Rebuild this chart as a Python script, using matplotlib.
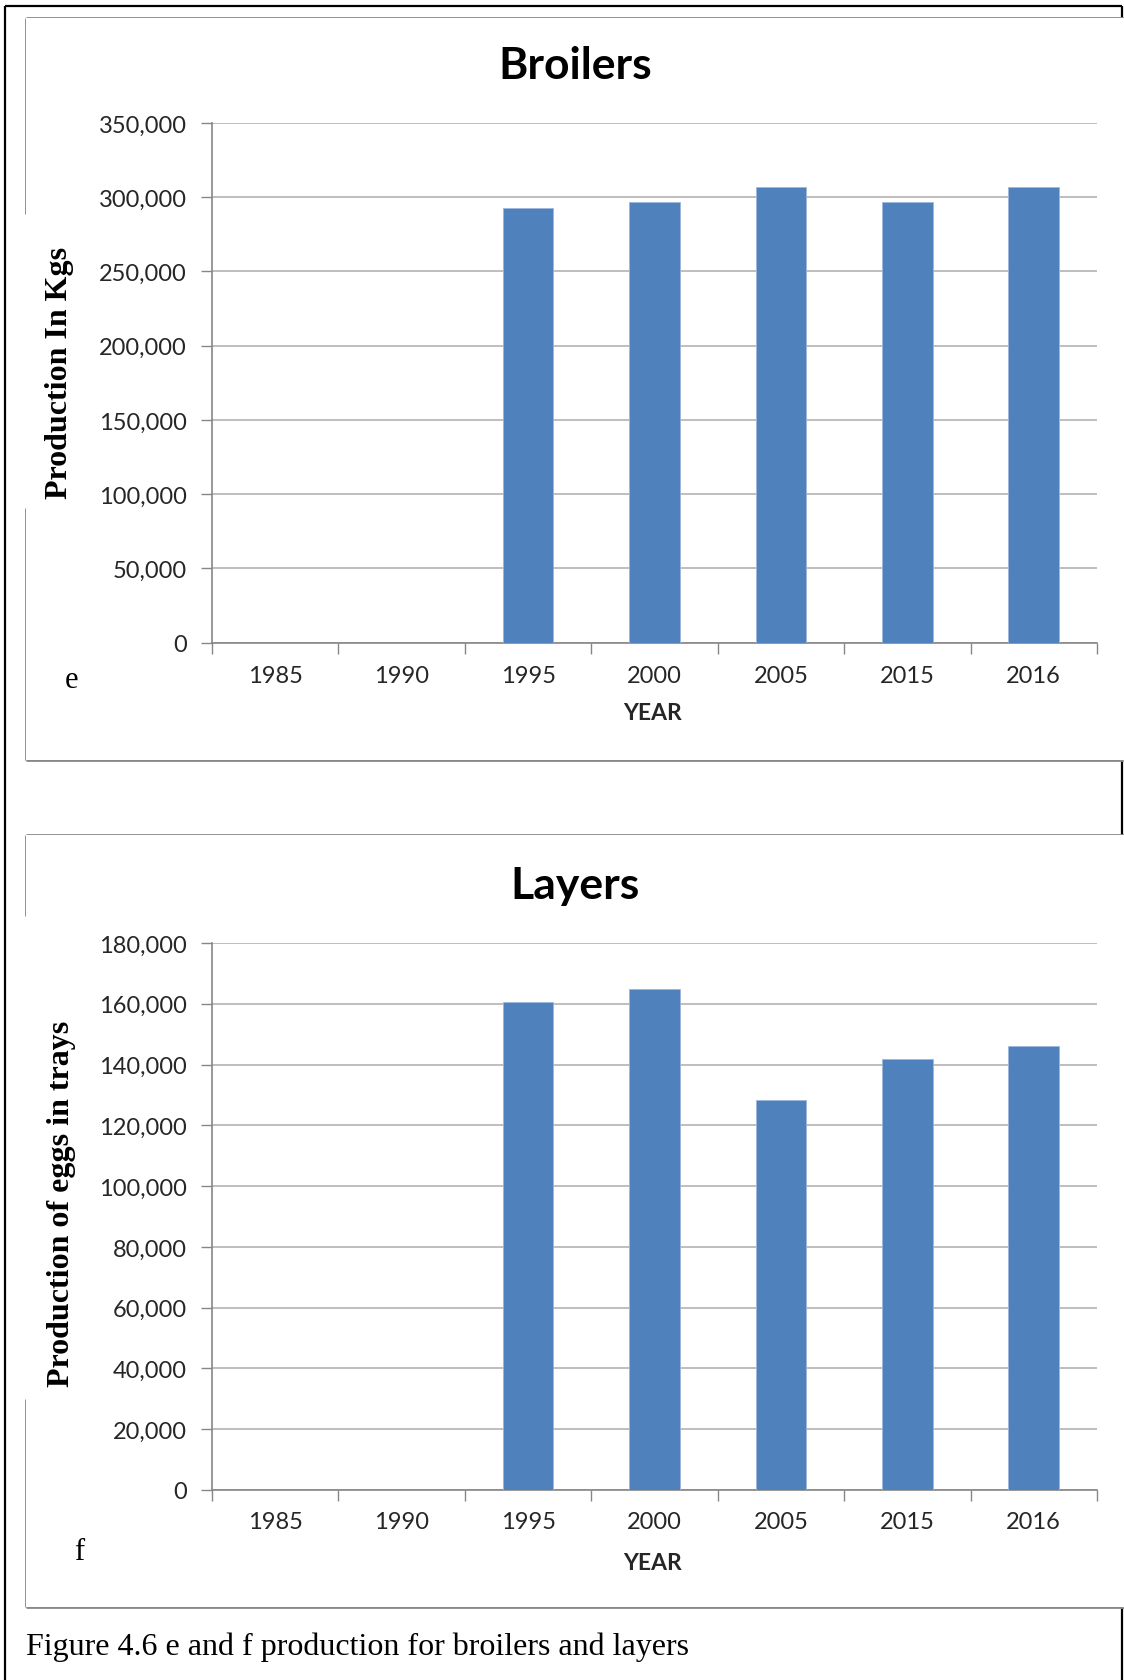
import matplotlib
matplotlib.use("Agg")
import matplotlib.pyplot as plt
from matplotlib.lines import Line2D
from matplotlib.patches import Rectangle
from matplotlib.ticker import FuncFormatter, FixedLocator

# Poultry production by survey year
years = ["1985", "1990", "1995", "2000", "2005", "2015", "2016"]
broilers_kg = [0, 0, 293000, 297000, 307000, 296500, 307000]
layers_trays = [0, 0, 160500, 164800, 128200, 141900, 146100]

W, H = 1124, 1681
BAR = "#4F81BD"
GRID = "#B3B3B3"
AXIS = "#868686"
FRAME = "#888888"
TXT = "#262626"
SANS = "Lato"
SERIF = "Liberation Serif"

fig = plt.figure(figsize=(W / 100, H / 100), dpi=100)


def fx(x):
    return x / W


def fy(y):
    return 1 - y / H


def line(x0, y0, x1, y1, color, lw):
    fig.add_artist(Line2D([fx(x0), fx(x1)], [fy(y0), fy(y1)], color=color, lw=lw,
                          transform=fig.transFigure, solid_capstyle="butt", zorder=-1))


# outer page frame (black)
line(5, 7, 5, H, "black", 1.6)
line(5, 7, 1122, 7, "black", 1.6)
line(1122, 7, 1122, H, "black", 1.6)


def chart_box(top, bottom, gap):
    fig.add_artist(Rectangle((fx(26), fy(bottom)), fx(1124) - fx(26), fy(top) - fy(bottom),
                             transform=fig.transFigure, facecolor="white", edgecolor="none",
                             zorder=-0.5))
    line(26, top, 1124, top, FRAME, 2)
    line(26, bottom, 1124, bottom, FRAME, 2)
    line(1123, top, 1123, bottom, "#BBBBBB", 1)
    line(26, top, 26, gap[0], FRAME, 2)
    line(26, gap[1], 26, bottom, FRAME, 2)


def bar_panel(top, bottom, values, ymax, step, title, ylabel, letter, title_y, label_y,
              tick_y, year_y, letter_pos, ylabel_x):
    ax = fig.add_axes([fx(212), fy(bottom), fx(1097) - fx(212), fy(top) - fy(bottom)])
    ax.set_facecolor("none")
    x = list(range(len(years)))
    ax.bar(x, values, width=0.4, color=BAR, edgecolor="#9DB7DC", linewidth=0.6, zorder=3)
    ax.set_xlim(-0.5, len(years) - 0.5)
    ax.set_ylim(0, ymax)
    ax.set_yticks(range(0, ymax + 1, step))
    ax.yaxis.set_major_formatter(FuncFormatter(lambda v, _: f"{int(v):,}"))
    ax.set_xticks(x)
    ax.set_xticklabels([])
    ax.xaxis.set_minor_locator(FixedLocator([i - 0.5 for i in range(len(years) + 1)]))
    ax.tick_params(axis="x", which="major", length=0)
    ax.tick_params(axis="x", which="minor", length=8, color=AXIS, width=1)
    ax.tick_params(axis="y", length=8, color=AXIS, width=1, labelsize=17, labelcolor=TXT, pad=10)
    for lab in ax.get_yticklabels():
        lab.set_fontfamily(SANS)
    ax.grid(axis="y", color=GRID, lw=1.2, zorder=0)
    for s in ("top", "right"):
        ax.spines[s].set_visible(False)
    for s in ("left", "bottom"):
        ax.spines[s].set_color(AXIS)
        ax.spines[s].set_linewidth(1.2)
    ax.set_axisbelow(True)

    # year labels centred under each category
    for i, yr in enumerate(years):
        fig.text(fx(212 + (i + 0.5) * 885 / len(years)), fy(tick_y), yr, ha="center", va="center",
                 fontsize=17, family=SANS, color=TXT)
    fig.text(fx(575), fy(title_y), title, ha="center", va="center", fontsize=32,
             fontweight="bold", family=SANS, color="black")
    fig.text(fx(653), fy(year_y), "YEAR", ha="center", va="center", fontsize=16.5,
             fontweight="bold", family=SANS, color=TXT)
    fig.text(fx(ylabel_x), fy(label_y), ylabel, ha="center", va="center", rotation=90,
             fontsize=23, fontweight="bold", family=SERIF, color="black")
    fig.text(fx(letter_pos[0]), fy(letter_pos[1]), letter, ha="center", va="center",
             fontsize=22, family=SERIF, color="black")
    return ax


chart_box(19, 761, (215, 509))
chart_box(836, 1608, (917, 1400))

bar_panel(124, 643.5, broilers_kg, 350000, 50000, "Broilers", "Production In Kgs", "e",
          title_y=66, label_y=373, tick_y=677, year_y=714, letter_pos=(71, 681), ylabel_x=59)
bar_panel(944, 1491, layers_trays, 180000, 20000, "Layers", "Production of eggs in trays", "f",
          title_y=886, label_y=1204, tick_y=1523, year_y=1563, letter_pos=(79, 1553), ylabel_x=62)

fig.text(fx(26), fy(1647), "Figure 4.6 e and f production for broilers and layers",
         ha="left", va="center", fontsize=23, family=SERIF, color="black")

fig.savefig("out.png", dpi=100)
